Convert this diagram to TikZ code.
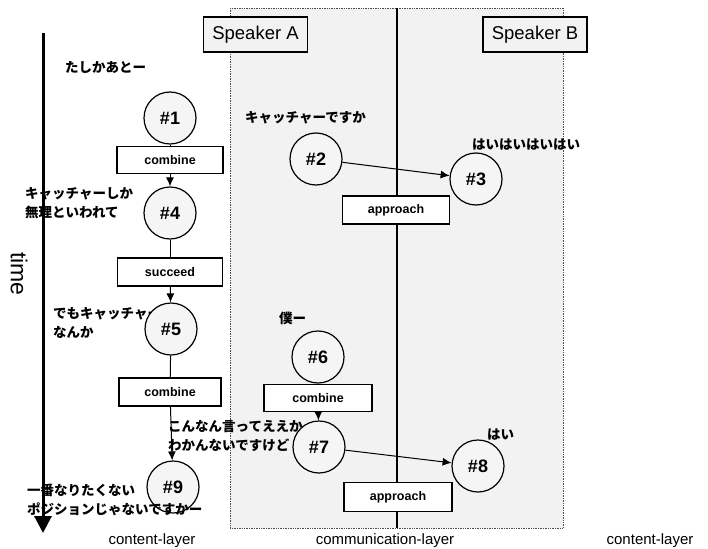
\documentclass[tikz,border=0pt]{standalone}
\usepackage{fontspec}
\setmainfont{Liberation Sans}
\newfontfamily\jp{Noto Sans CJK JP}
\usetikzlibrary{arrows.meta}
\tikzset{
  ev/.style={circle,draw,line width=1.2pt,fill=black!4,minimum size=52pt,inner sep=0pt,font=\fontsize{18}{18}\selectfont\bfseries},
  opbox/.style={rectangle,draw,line width=1.4pt,fill=white,minimum width=106pt,minimum height=27pt,inner sep=0pt,font=\fontsize{12.5}{13}\selectfont\bfseries},
  spk/.style={rectangle,draw,line width=1.6pt,fill=black!5,minimum width=104pt,minimum height=35pt,inner sep=0pt,font=\fontsize{18.5}{18}\selectfont},
  utt/.style={anchor=west,align=left,inner sep=0pt,font=\jp\bfseries\fontsize{13.5}{19}\selectfont},
  layer/.style={inner sep=0pt,font=\fontsize{15}{15}\selectfont},
  flow/.style={line width=1pt},
  flowa/.style={line width=1pt,-{Latex[length=9pt,width=8pt]}},
}
\begin{document}
\begin{tikzpicture}[x=1pt,y=-1pt]
\useasboundingbox (0,0) rectangle (708,548);
% communication layer region
\fill[black!5] (230,8) rectangle (563,528);
\draw[black!70,densely dotted,line width=0.7pt] (230,8) rectangle (563,528);
\coordinate (vtop) at (397,8);
\coordinate (vbot) at (397,528);
\draw[line width=2pt] (vtop) -- (vbot);

% speakers
\node[spk] (spA) at (255.5,34.5) {Speaker A};
\node[spk] (spB) at (535,34.5) {Speaker B};

% utterances
\node[utt] (u1) at (65,67) {たしかあとー};
\node[utt] (u2) at (245,118) {キャッチャーですか};
\node[utt] (u3) at (472,145) {はいはいはいはい};
\node[utt] (u4) at (25,203) {キャッチャーしか\\無理といわれて};
\node[utt] (u5) at (53,323) {でもキャッチャー\\なんか};
\node[utt] (u6) at (279,318) {僕ー};
\node[utt] (u8) at (487,435) {はい};

% events
\node[ev] (n1) at (170,118) {\#1};
\node[opbox] (b1) at (170,160) {combine};
\node[ev] (n4) at (170,213) {\#4};
\node[opbox,minimum width=105pt,minimum height=28pt] (b2) at (170,272) {succeed};
\node[ev] (n5) at (171,329) {\#5};
\node[opbox,minimum width=102pt,minimum height=28pt] (b3) at (170,392) {combine};
\node[ev] (n9) at (173,487) {\#9};

\node[ev] (n2) at (316,159) {\#2};
\node[ev] (n3) at (476,179) {\#3};
\node[opbox,minimum width=107pt,minimum height=28pt] (a1) at (396,210) {approach};

\node[ev] (n6) at (318,357) {\#6};
\node[opbox,minimum width=108pt,minimum height=27pt] (b4) at (318,398) {combine};
\node[ev] (n7) at (319,447) {\#7};
\node[ev] (n8) at (478,466) {\#8};
\node[opbox,minimum width=108pt,minimum height=29pt] (a2) at (398,497) {approach};

% connectors
\draw[flow] (n1) -- (b1);
\draw[flowa] (b1) -- (n4);
\draw[flow] (n4) -- (b2);
\draw[flowa] (b2) -- (n5);
\draw[flow] (n5) -- (b3);
\draw[flowa] (b3) -- (n9);
\draw[flow] (n6) -- (b4);
\draw[flowa] (b4) -- (n7);
\draw[flowa] (n2) -- (n3);
\draw[flowa] (n7) -- (n8);

% utterances overlapping
\node[utt] (u7) at (168,436) {こんなん言ってええか\\わかんないですけど};
\node[utt] (u9) at (27,500) {一番なりたくない\\ポジションじゃないですかー};

% time axis
\coordinate (ttop) at (43,33);
\coordinate (tbot) at (43,533);
\draw[line width=3pt,-{Triangle[length=17pt,width=17pt]}] (ttop) -- (tbot);
\node[rotate=-90,inner sep=0pt,font=\fontsize{23}{23}\selectfont] (time) at (19,274) {time};

% layer labels
\node[layer] (l1) at (152,541) {content-layer};
\node[layer] (l2) at (385,541) {communication-layer};
\node[layer] (l3) at (650,541) {content-layer};
\end{tikzpicture}
\end{document}
